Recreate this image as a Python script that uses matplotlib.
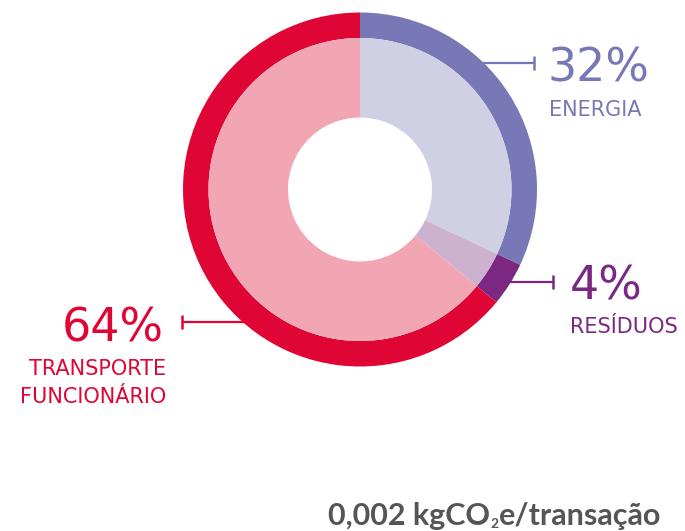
import matplotlib
matplotlib.use("Agg")
import matplotlib.pyplot as plt

# ---- data ----
categories = ["ENERGIA", "RESÍDUOS", "TRANSPORTE\nFUNCIONÁRIO"]
shares = [32, 4, 64]
pct_labels = ["32%", "4%", "64%"]
outer_colors = ["#7878b6", "#7a2882", "#df0535"]
inner_colors = ["#cfd0e4", "#cdb2d0", "#f2a5b3"]
footer_a = "0,002 kgCO"
footer_sub = "2"
footer_b = "e/transação"

W, H = 685, 531
fig = plt.figure(figsize=(W / 100, H / 100), dpi=100)
ax = fig.add_axes([0, 0, 1, 1])

def Y(py):
    return H - py

cx, cy = 360, Y(189.5)
R_out, R_mid, R_hole = 177, 151.5, 72

ax.pie(shares, radius=R_out, center=(cx, cy), startangle=90, counterclock=False,
       colors=outer_colors, wedgeprops=dict(width=R_out - R_mid, linewidth=0), frame=True)
ax.pie(shares, radius=R_mid, center=(cx, cy), startangle=90, counterclock=False,
       colors=inner_colors, wedgeprops=dict(width=R_mid - R_hole, linewidth=0), frame=True)
ax.set_xlim(0, W)
ax.set_ylim(0, H)
ax.set_aspect("equal")
ax.axis("off")

font = "DejaVu Sans"
big = 33
small = 15

# leader lines (drawn beneath the donut)
leaders = [
    (470, 534, 62.5),
    (505, 553, 282),
    (260, 182, 322),
]
for (x0, x1, yy), col in zip(leaders, outer_colors):
    ax.plot([x0, x1], [Y(yy), Y(yy)], color=col, lw=1.6, zorder=0, solid_capstyle="butt")
    ax.plot([x1, x1], [Y(yy - 7), Y(yy + 7)], color=col, lw=1.8, zorder=0, solid_capstyle="butt")

# labels
ax.text(548, Y(82), pct_labels[0], color=outer_colors[0], fontsize=big, family=font,
        ha="left", va="baseline")
ax.text(549, Y(116), categories[0], color=outer_colors[0], fontsize=small, family=font,
        ha="left", va="baseline")
ax.text(570, Y(300), pct_labels[1], color=outer_colors[1], fontsize=big, family=font,
        ha="left", va="baseline")
ax.text(570, Y(333), categories[1], color=outer_colors[1], fontsize=small, family=font,
        ha="left", va="baseline")
ax.text(164, Y(342), pct_labels[2], color=outer_colors[2], fontsize=big, family=font,
        ha="right", va="baseline")
l1, l2 = categories[2].split("\n")
ax.text(166, Y(375), l1, color=outer_colors[2], fontsize=small, family=font,
        ha="right", va="baseline")
ax.text(166, Y(403), l2, color=outer_colors[2], fontsize=small, family=font,
        ha="right", va="baseline")

# footer with subscript
fc = "#555555"
fs = 22
ffont = "Lato"
t1 = ax.text(328, Y(525), footer_a, color=fc, fontsize=fs, family=ffont, weight="bold",
             ha="left", va="baseline")
fig.canvas.draw()
r = fig.canvas.get_renderer()
bb = t1.get_window_extent(r)
inv = ax.transData.inverted()
x_end = inv.transform((bb.x1, 0))[0]
t2 = ax.text(x_end + 0.5, Y(528), footer_sub, color=fc, fontsize=10, family=ffont, weight="bold",
             ha="left", va="baseline")
bb2 = t2.get_window_extent(r)
x_end2 = inv.transform((bb2.x1, 0))[0]
ax.text(x_end2 + 0.5, Y(525), footer_b, color=fc, fontsize=fs, family=ffont, weight="bold",
        ha="left", va="baseline")

fig.savefig("out.png", dpi=100)
